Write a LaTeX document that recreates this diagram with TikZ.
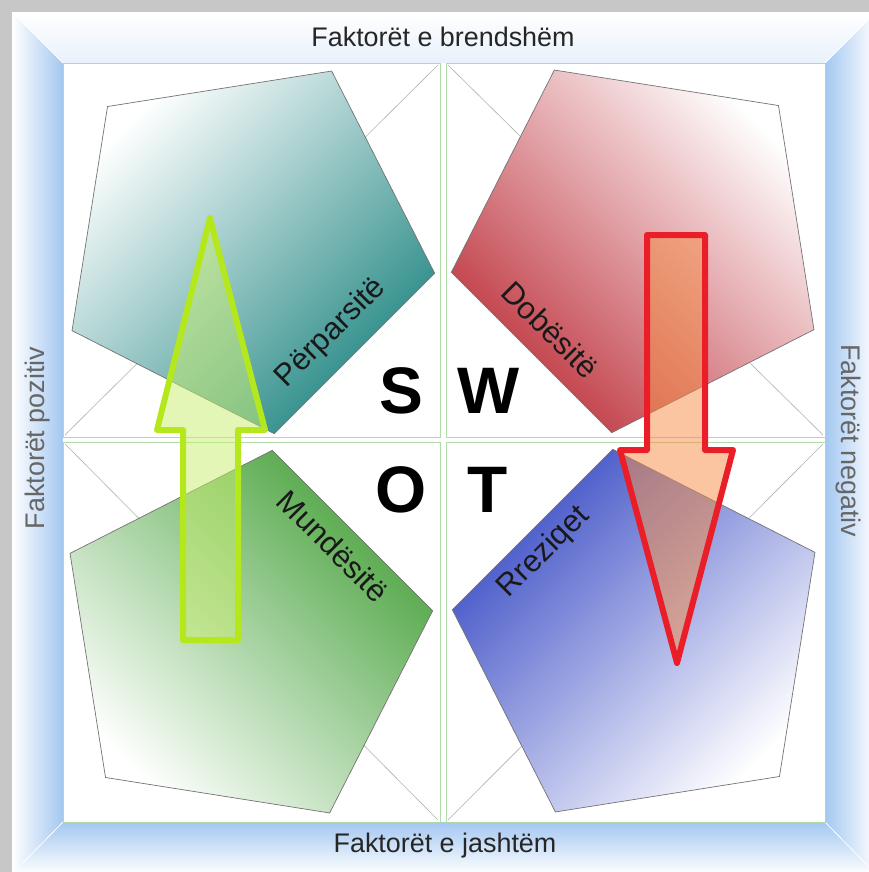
\documentclass[tikz,border=0pt]{standalone}
\usepackage{fontspec}
\setmainfont{Liberation Sans}
\usetikzlibrary{calc}

\definecolor{frameblue}{RGB}{163,199,241}
\definecolor{quadgreen}{RGB}{176,218,168}
\definecolor{tealdark}{RGB}{36,136,132}
\definecolor{reddark}{RGB}{190,52,62}
\definecolor{greendark}{RGB}{76,164,64}
\definecolor{bluedark}{RGB}{62,80,198}
\definecolor{limeline}{RGB}{180,232,28}
\definecolor{limefill}{RGB}{200,238,110}
\definecolor{redline}{RGB}{234,30,40}
\definecolor{orangefill}{RGB}{246,140,66}

\begin{document}
\begin{tikzpicture}[x=1bp, y=-1bp,
		pentagon/.style={draw=black!55, line width=0.7bp},
		quadbox/.style={draw=quadgreen, line width=0.9bp, fill=white},
		diag/.style={draw=black!30, line width=0.6bp},
		frametitle/.style={font=\fontsize{27}{30}\selectfont, text=black!85, inner sep=0pt},
		sidetitle/.style={font=\fontsize{27}{30}\selectfont, text=black!60, inner sep=0pt},
		quadlabel/.style={font=\fontsize{31}{34}\selectfont, text=black!90, inner sep=0pt},
		swotletter/.style={font=\fontsize{66}{70}\selectfont\bfseries, inner sep=0pt},
		blockarrow/.style={line width=6bp, line join=round, fill opacity=0.5}
		]
		
		% Parameters
		\def\rad{193}
		\useasboundingbox (0,0) rectangle (869,872);
		
		% Shadow and frame
		\fill[black!22] (0,0) rectangle (869,872);
		\shade[top color=white, bottom color=frameblue!25] (12,12) -- (876,12) -- (825,63) -- (63,63) -- cycle;
		\shade[left color=white, right color=frameblue] (12,12) -- (63,63) -- (63,822) -- (12,874) -- cycle;
		\shade[left color=frameblue, right color=white] (876,12) -- (825,63) -- (825,822) -- (876,874) -- cycle;
		\shade[top color=frameblue, bottom color=white] (63,822) -- (825,822) -- (876,874) -- (12,874) -- cycle;
		\draw[white, line width=0.8bp] (12,12) -- (63,63) (876,12) -- (825,63)
			(63,822) -- (12,874) (825,822) -- (876,874);
		
		% Draw the four quadrants
		\fill[white] (63,63) rectangle (825,822);
		\draw[quadbox] (63,63) rectangle (440,437);
		\draw[quadbox] (446,63) rectangle (825,437);
		\draw[quadbox] (63,442) rectangle (440,822);
		\draw[quadbox] (446,442) rectangle (825,822);
		
		% Diagonals of the quadrants
		\draw[diag] (438,65) -- (65,435);
		\draw[diag] (448,65) -- (823,435);
		\draw[diag] (65,444) -- (438,820);
		\draw[diag] (823,444) -- (448,820);
		
		% Centres of the pentagons
		\coordinate (stren) at (244,243);
		\coordinate (weak) at (642,242);
		\coordinate (oppor) at (242,641);
		\coordinate (threat) at (643,640);
		
		% Draw the pentagons
		\draw[pentagon, top color=white, bottom color=tealdark, shading angle=45]
			($(stren)+(-135:\rad)$) -- ($(stren)+(-207:\rad)$) -- ($(stren)+(-279:\rad)$)
			-- ($(stren)+(-351:\rad)$) -- ($(stren)+(-63:\rad)$) -- cycle;
		\draw[pentagon, top color=white, bottom color=reddark, shading angle=-45]
			($(weak)+(-45:\rad)$) -- ($(weak)+(-117:\rad)$) -- ($(weak)+(-189:\rad)$)
			-- ($(weak)+(-261:\rad)$) -- ($(weak)+(-333:\rad)$) -- cycle;
		\draw[pentagon, top color=white, bottom color=greendark, shading angle=135]
			($(oppor)+(-225:\rad)$) -- ($(oppor)+(-297:\rad)$) -- ($(oppor)+(-9:\rad)$)
			-- ($(oppor)+(-81:\rad)$) -- ($(oppor)+(-153:\rad)$) -- cycle;
		\draw[pentagon, top color=white, bottom color=bluedark, shading angle=225]
			($(threat)+(-315:\rad)$) -- ($(threat)+(-27:\rad)$) -- ($(threat)+(-99:\rad)$)
			-- ($(threat)+(-171:\rad)$) -- ($(threat)+(-243:\rad)$) -- cycle;
		
		% Label the pentagons
		\node[quadlabel, rotate=45] (perparsite) at (331,333) {Përparsitë};
		\node[quadlabel, rotate=-45] (dobesite) at (550,330) {Dobësitë};
		\node[quadlabel, rotate=-45] (mundesite) at (333,546) {Mundësitë};
		\node[quadlabel, rotate=45] (rreziqet) at (544,552) {Rreziqet};
		
		% Draw the two block arrows
		\draw[blockarrow, draw=limeline, fill=limefill]
			(183,640) -- (183,430) -- (157,430) -- (210,218) -- (265,430) -- (238,430) -- (238,640) -- cycle;
		\draw[blockarrow, draw=redline, fill=orangefill]
			(647,235) -- (705,235) -- (705,450) -- (733,450) -- (677,663) -- (620,450) -- (647,450) -- cycle;
		
		% SWOT letters
		\node[swotletter] (s) at (401,391) {S};
		\node[swotletter] (w) at (489,391) {W};
		\node[swotletter] (o) at (401,490) {O};
		\node[swotletter] (t) at (488,490) {T};
		
		% Titles on the frame
		\node[frametitle] (brendshem) at (443,37) {Faktorët e brendshëm};
		\node[frametitle] (jashtem) at (445,846) {Faktorët e jashtëm};
		\node[sidetitle, rotate=90] (pozitiv) at (38,438) {Faktorët pozitiv};
		\node[sidetitle, rotate=-90] (negativ) at (848,441) {Faktorët negativ};
		
	\end{tikzpicture}
\end{document}
